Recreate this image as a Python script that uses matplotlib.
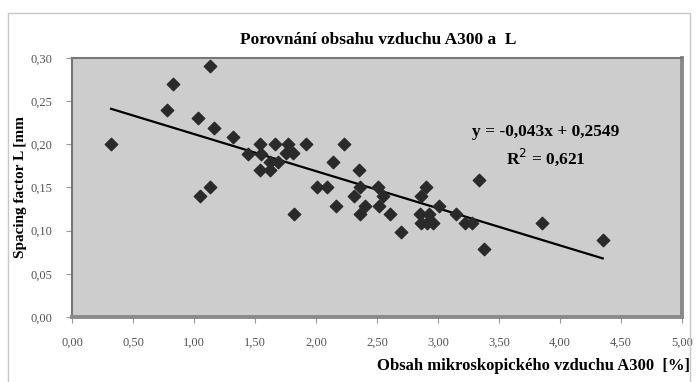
import numpy as np
import matplotlib
matplotlib.use("Agg")
import matplotlib.pyplot as plt
from matplotlib.patches import Rectangle
from matplotlib.ticker import FuncFormatter

# obsah vzduchu A300 [%] a spacing factor L [mm]
a300 = [0.32, 0.78, 0.83, 1.03, 1.05, 1.13, 1.13, 1.16, 1.32, 1.44,
        1.54, 1.54, 1.55, 1.62, 1.62, 1.66, 1.69, 1.75, 1.77, 1.81,
        1.82, 1.92, 2.01, 2.09, 2.14, 2.16, 2.23, 2.31, 2.35, 2.36,
        2.36, 2.40, 2.51, 2.52, 2.55, 2.61, 2.70, 2.85, 2.86, 2.86,
        2.90, 2.91, 2.93, 2.96, 3.01, 3.15, 3.22, 3.28, 3.34, 3.38,
        3.85, 4.35]
spacing = [0.200, 0.240, 0.270, 0.230, 0.140, 0.291, 0.150, 0.219, 0.209, 0.189,
           0.200, 0.170, 0.189, 0.179, 0.170, 0.200, 0.179, 0.190, 0.200, 0.190,
           0.119, 0.200, 0.150, 0.150, 0.179, 0.129, 0.200, 0.140, 0.170, 0.150,
           0.119, 0.129, 0.150, 0.129, 0.140, 0.119, 0.098, 0.119, 0.140, 0.109,
           0.150, 0.109, 0.119, 0.109, 0.129, 0.119, 0.109, 0.109, 0.159, 0.079,
           0.109, 0.089]

slope = -0.043
intercept = 0.2549
r2 = 0.621

x_ticks = [0, 0.5, 1, 1.5, 2, 2.5, 3, 3.5, 4, 4.5, 5]
y_ticks = [0, 0.05, 0.10, 0.15, 0.20, 0.25, 0.30]

serif = "Liberation Serif"

fig = plt.figure(figsize=(6.97, 3.82), dpi=100)
fig.patches.append(Rectangle((0.012, -0.05), 0.978, 1.016, transform=fig.transFigure,
                             fill=False, edgecolor="#c8c8c8", linewidth=1))

ax = fig.add_axes([0.1033, 0.1702, 0.8752, 0.678])
ax.set_facecolor("#cdcdcd")

ax.scatter(a300, spacing, marker="D", s=40, color="#2a2a2a", zorder=3)

xl = np.array([min(a300), max(a300)])
ax.plot(xl, slope * xl + intercept, color="black", linewidth=1.6, zorder=2)

ax.set_xlim(0, 5)
ax.set_ylim(0, 0.30)
ax.set_xticks(x_ticks)
ax.set_yticks(y_ticks)
fmt = FuncFormatter(lambda v, p: f"{v:.2f}".replace(".", ","))
ax.xaxis.set_major_formatter(fmt)
ax.yaxis.set_major_formatter(fmt)
ax.tick_params(axis="both", direction="out", length=4, color="#999999",
               labelsize=9, labelcolor="#555555")
ax.tick_params(axis="x", pad=10)
ax.tick_params(axis="y", pad=10)
for lab in ax.get_xticklabels() + ax.get_yticklabels():
    lab.set_family(serif)

for side in ["left", "top"]:
    ax.spines[side].set_color("#777777")
    ax.spines[side].set_linewidth(1.5)
for side in ["right", "bottom"]:
    ax.spines[side].set_color("#8a8a8a")
    ax.spines[side].set_linewidth(2.8)

fig.text(0.543, 0.895, "Porovnání obsahu vzduchu A300 a  L", ha="center", va="center",
         family=serif, fontweight="bold", fontsize=12.5)
ax.text(3.885, 0.214, "y = -0,043x + 0,2549", ha="center", va="center",
        family=serif, fontweight="bold", fontsize=12.5)
ax.text(3.885, 0.185, "R$^{2}$ = 0,621", ha="center", va="center",
        family=serif, fontweight="bold", fontsize=12.5)

fig.text(0.99, 0.042, "Obsah mikroskopického vzduchu A300  [%]", ha="right", va="center",
         family=serif, fontweight="bold", fontsize=12)
fig.text(0.030, 0.51, "Spacing factor L [mm", ha="center", va="center", rotation=90,
         family=serif, fontweight="bold", fontsize=11)

fig.savefig("out.png", dpi=100)
